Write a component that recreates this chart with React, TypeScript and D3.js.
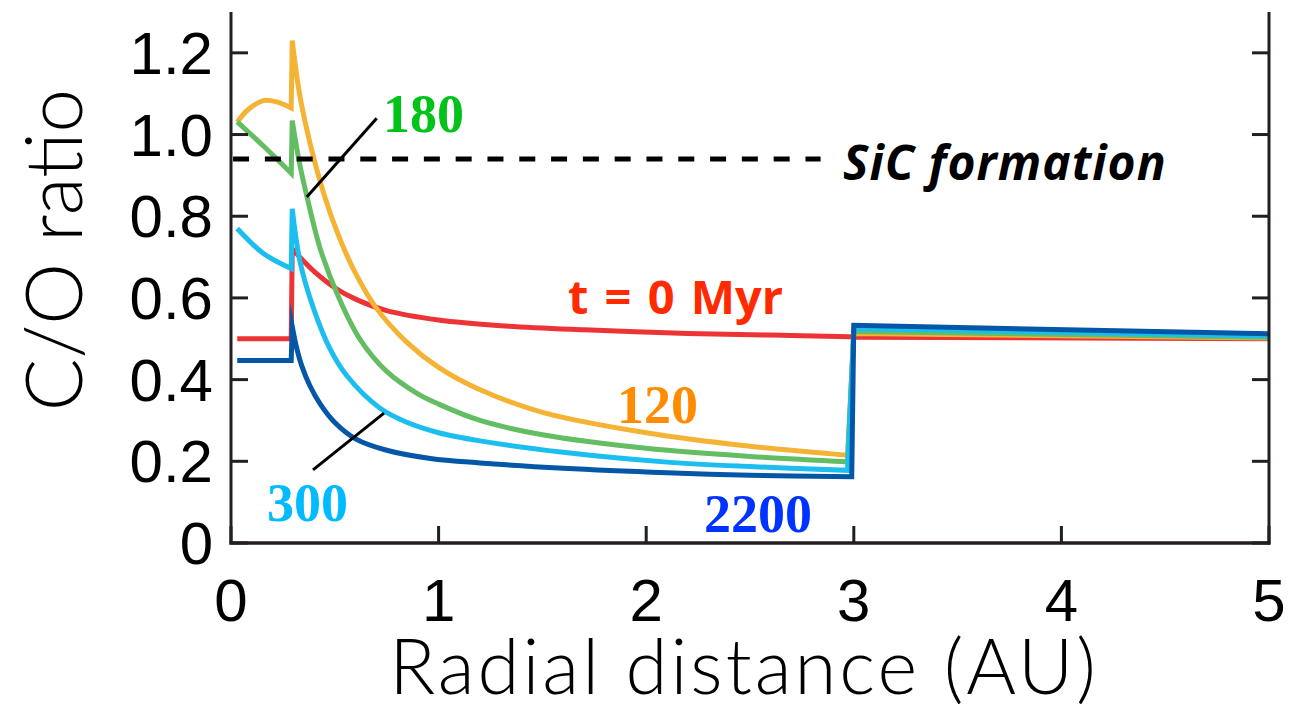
import React from "react";
import * as d3 from "d3";

// ---------- data (x = radial distance in AU, y = C/O ratio) ----------
const X_TICKS = [0, 1, 2, 3, 4, 5];
const X_TICK_LABELS = ["0", "1", "2", "3", "4", "5"];
const Y_TICKS = [0, 0.2, 0.4, 0.6, 0.8, 1.0, 1.2];
const Y_TICK_LABELS = ["0", "0.2", "0.4", "0.6", "0.8", "1.0", "1.2"];

const SIC_LEVEL = 0.94;
const SIC_X_RANGE = [0.01, 2.84];

// t = 0 Myr (red)
const redInner: [number, number][] = [[0.03, 0.5], [0.29, 0.5]];
const redDecay: [number, number][] = [
  [0.295, 0.72], [0.35, 0.69], [0.4, 0.665], [0.5, 0.625], [0.6, 0.597], [0.75, 0.569],
  [1.0, 0.546], [1.3, 0.532], [1.7, 0.522], [2.2, 0.513], [2.6, 0.509], [2.98, 0.505],
];
const redOuter: [number, number][] = [[3.0, 0.504], [5.0, 0.5]];

// 120 Myr (orange)
const orangeInner: [number, number][] = [[0.03, 1.03], [0.08, 1.06], [0.156, 1.083], [0.22, 1.08], [0.29, 1.065]];
const orangeDecay: [number, number][] = [
  [0.295, 1.23], [0.33, 1.1], [0.38, 0.98], [0.45, 0.85], [0.52, 0.75], [0.6, 0.66], [0.7, 0.575],
  [0.85, 0.49], [1.0, 0.43], [1.2, 0.375], [1.5, 0.32], [2.0, 0.27], [2.5, 0.237], [2.97, 0.215],
];
const orangeOuter: [number, number][] = [[3.0, 0.513], [5.0, 0.502]];

// 180 Myr (green)
const greenInner: [number, number][] = [[0.03, 1.031], [0.16, 0.97], [0.29, 0.905]];
const greenDecay: [number, number][] = [
  [0.295, 1.034], [0.33, 0.93], [0.365, 0.85], [0.43, 0.72], [0.52, 0.6], [0.62, 0.5], [0.75, 0.42],
  [0.9, 0.365], [1.0, 0.34], [1.2, 0.3], [1.5, 0.265], [2.0, 0.232], [2.5, 0.212], [2.97, 0.199],
];
const greenOuter: [number, number][] = [[3.0, 0.518], [5.0, 0.504]];

// 300 Myr (light blue)
const lightInner: [number, number][] = [[0.03, 0.77], [0.156, 0.709], [0.29, 0.672]];
const lightDecay: [number, number][] = [
  [0.295, 0.818], [0.332, 0.69], [0.397, 0.575], [0.477, 0.475], [0.557, 0.41], [0.718, 0.33],
  [0.85, 0.295], [1.0, 0.27], [1.2, 0.25], [1.6, 0.222], [2.1, 0.198], [2.5, 0.187], [2.97, 0.178],
];
const lightOuter: [number, number][] = [[3.0, 0.525], [5.0, 0.507]];

// 2200 Myr (dark blue)
const darkInner: [number, number][] = [[0.03, 0.447], [0.29, 0.447]];
const darkDecay: [number, number][] = [
  [0.295, 0.53], [0.315, 0.48], [0.34, 0.435], [0.38, 0.385], [0.43, 0.34], [0.5, 0.295], [0.6, 0.255],
  [0.75, 0.227], [0.96, 0.207], [1.2, 0.196], [1.6, 0.183], [2.1, 0.172], [2.5, 0.166], [2.99, 0.162],
];
const darkOuter: [number, number][] = [[3.0, 0.533], [5.0, 0.512]];

const SERIES = [
  { name: "0", color: "#EC3437", segs: [redInner, redDecay, redOuter] },
  { name: "120", color: "#F4B334", segs: [orangeInner, orangeDecay, orangeOuter] },
  { name: "180", color: "#63BD62", segs: [greenInner, greenDecay, greenOuter] },
  { name: "300", color: "#1BBEEE", segs: [lightInner, lightDecay, lightOuter] },
  { name: "2200", color: "#0457A6", segs: [darkInner, darkDecay, darkOuter] },
];

// annotations (data coordinates)
const LEADER_180: [number, number][] = [[0.365, 0.847], [0.702, 1.04]];
const LEADER_300: [number, number][] = [[0.395, 0.179], [0.737, 0.318]];

// ---------- layout ----------
const W = 1292;
const H = 715;
const X0 = 231, X1 = 1269, Y0 = 543, YTOP = 12;

export default function App() {
  const x = d3.scaleLinear().domain([0, 5]).range([X0, X1]);
  const y = d3.scaleLinear().domain([0, 1.3]).range([Y0, YTOP]);

  const seg = d3
    .line<[number, number]>()
    .x((d) => x(d[0]))
    .y((d) => y(d[1]))
    .curve(d3.curveCatmullRom.alpha(0.5));

  const pathFor = (segs: [number, number][][]) =>
    segs.map((s, i) => {
      const d = seg(s) || "";
      return i === 0 ? d : "L" + d.slice(1);
    }).join("");

  const tickFont = "'Liberation Sans', Arial, Helvetica, sans-serif";
  const titleFont = "Lato, 'Open Sans', sans-serif";
  const numFont = "'Liberation Serif', 'Times New Roman', serif";
  const labFont = "'Open Sans', Lato, sans-serif";
  const axisColor = "#231F20";

  return (
    <svg width={W} height={H} style={{ position: "absolute", left: 0, top: 0, background: "#fff" }}>
      <rect x={0} y={0} width={W} height={H} fill="#fff" />

      {/* curves */}
      {SERIES.map((s) => (
        <path key={s.name} d={pathFor(s.segs)} fill="none" stroke={s.color} strokeWidth={5} strokeLinejoin="miter" strokeMiterlimit={10} />
      ))}

      {/* SiC dashed line */}
      <line
        x1={x(SIC_X_RANGE[0])}
        x2={x(SIC_X_RANGE[1])}
        y1={y(SIC_LEVEL)}
        y2={y(SIC_LEVEL)}
        stroke="#000"
        strokeWidth={5}
        strokeDasharray="16 15.8"
      />

      {/* axes spines */}
      <line x1={X0} x2={X0} y1={YTOP} y2={Y0 + 1.5} stroke={axisColor} strokeWidth={3} />
      <line x1={X1} x2={X1} y1={YTOP} y2={Y0 + 1.5} stroke={axisColor} strokeWidth={3} />
      <line x1={X0 - 1.5} x2={X1 + 1.5} y1={Y0} y2={Y0} stroke={axisColor} strokeWidth={3.5} />

      {/* y ticks */}
      {Y_TICKS.map((t, i) => (
        <g key={"y" + i}>
          <line x1={X0} x2={X0 + 17} y1={y(t)} y2={y(t)} stroke={axisColor} strokeWidth={3} />
          <line x1={X1 - 17} x2={X1} y1={y(t)} y2={y(t)} stroke={axisColor} strokeWidth={3} />
          <text x={213} y={y(t) + 21} textAnchor="end" fontFamily={tickFont} fontSize={60} fill="#000">
            {Y_TICK_LABELS[i]}
          </text>
        </g>
      ))}

      {/* x ticks */}
      {X_TICKS.map((t, i) => (
        <g key={"x" + i}>
          <line x1={x(t)} x2={x(t)} y1={Y0} y2={Y0 - 17} stroke={axisColor} strokeWidth={3} />
          <text x={x(t)} y={621} textAnchor="middle" fontFamily={tickFont} fontSize={60} fill="#000">
            {X_TICK_LABELS[i]}
          </text>
        </g>
      ))}

      {/* axis titles */}
      <text x={744} y={694} textAnchor="middle" fontFamily={titleFont} fontWeight={300} fontSize={76} letterSpacing={3} fill="#000">
        Radial distance (AU)
      </text>
      <text
        transform={`translate(82, 250) rotate(-90)`}
        textAnchor="middle"
        fontFamily={titleFont}
        fontWeight={300}
        fontSize={78}
        fill="#000"
      >
        C/O ratio
      </text>

      {/* leader lines */}
      {[LEADER_180, LEADER_300].map((l, i) => (
        <line key={"ld" + i} x1={x(l[0][0])} y1={y(l[0][1])} x2={x(l[1][0])} y2={y(l[1][1])} stroke="#000" strokeWidth={3} />
      ))}

      {/* curve labels */}
      <text x={383} y={132} fontFamily={numFont} fontWeight="bold" fontSize={54} fill="#00C31A">180</text>
      <text x={617} y={423} fontFamily={numFont} fontWeight="bold" fontSize={54} fill="#FF8C00">120</text>
      <text x={267} y={521} fontFamily={numFont} fontWeight="bold" fontSize={54} fill="#00BBFF">300</text>
      <text x={704} y={532} fontFamily={numFont} fontWeight="bold" fontSize={54} fill="#0033FF">2200</text>
      <text x={568} y={314} fontFamily={labFont} fontWeight="bold" fontSize={47} wordSpacing={4} fill="#FF2A00">t = 0 Myr</text>
      <text x={843} y={180} fontFamily={labFont} fontWeight="bold" fontStyle="italic" fontSize={48} letterSpacing={1} fill="#000">
        SiC formation
      </text>
    </svg>
  );
}
